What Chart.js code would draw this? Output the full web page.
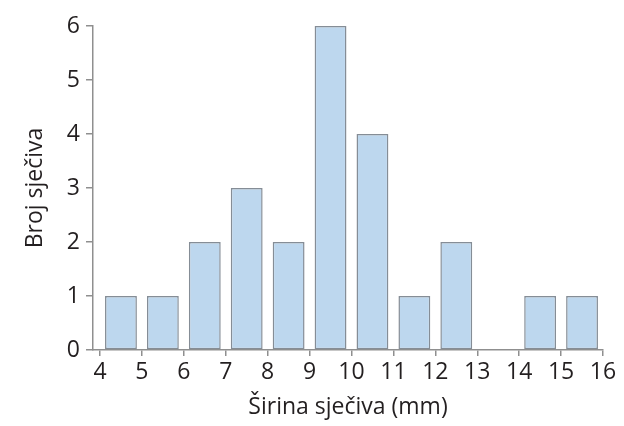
<!DOCTYPE html>
<html>
<head>
<meta charset="utf-8">
<script src="https://cdn.jsdelivr.net/npm/chart.js@4"></script>
<style>
  html, body { margin: 0; padding: 0; background: #fff; }
  #wrap { width: 624px; height: 426px; }
</style>
</head>
<body>
<div id="wrap"><canvas id="chart" width="624" height="426"></canvas></div>
<script>
// histogram bins (lower edge, mm) and counts
var binStart = [4, 5, 6, 7, 8, 9, 10, 11, 12, 13, 14, 15];
var counts = [1, 1, 2, 3, 2, 6, 4, 1, 2, 0, 1, 1];
var xTicks = [4, 5, 6, 7, 8, 9, 10, 11, 12, 13, 14, 15, 16];
var yTicks = [0, 1, 2, 3, 4, 5, 6];

var axisGray = '#8f8f8f';
var textColor = '#231f20';
var font = { family: 'Open Sans', size: 23 };

var points = binStart.map(function(b, i) {
  return { x: b + 0.5, y: counts[i] === 0 ? null : counts[i] };
});

var ctx = document.getElementById('chart').getContext('2d');
new Chart(ctx, {
  type: 'bar',
  data: {
    datasets: [{
      data: points,
      backgroundColor: '#bdd7ee',
      borderColor: '#858d96',
      borderWidth: 1.5,
      borderSkipped: false,
      barPercentage: 0.76,
      categoryPercentage: 1
    }]
  },
  options: {
    responsive: false,
    animation: false,
    layout: { padding: { top: 26, right: 21, left: 0, bottom: 0 } },
    plugins: { legend: { display: false }, tooltip: { enabled: false } },
    scales: {
      x: {
        type: 'linear',
        offset: false,
        min: 3.833,
        max: 16,
        afterBuildTicks: function(s) { s.ticks = xTicks.map(function(v) { return { value: v }; }); },
        afterFit: function(s) { s.height = 76; },
        grid: { offset: false, drawOnChartArea: false, drawTicks: true, tickLength: 6, color: axisGray, lineWidth: 1.5 },
        border: { display: true, color: axisGray, width: 1.5 },
        ticks: { color: textColor, font: font, padding: 3, maxRotation: 0, autoSkip: false },
        title: { display: true, text: 'Širina sječiva (mm)', color: textColor, font: font, padding: { top: 4, bottom: 5 } }
      },
      y: {
        min: 0,
        max: 6,
        afterBuildTicks: function(s) { s.ticks = yTicks.map(function(v) { return { value: v }; }); },
        afterFit: function(s) { s.width = 93; },
        grid: { drawOnChartArea: false, drawTicks: true, tickLength: 7, color: axisGray, lineWidth: 1.5 },
        border: { display: true, color: axisGray, width: 1.5 },
        ticks: { color: textColor, font: font, padding: 6 },
        title: { display: true, text: 'Broj sječiva', color: textColor, font: font, padding: { top: 22, bottom: 10 } }
      }
    }
  }
});
</script>
</body>
</html>
